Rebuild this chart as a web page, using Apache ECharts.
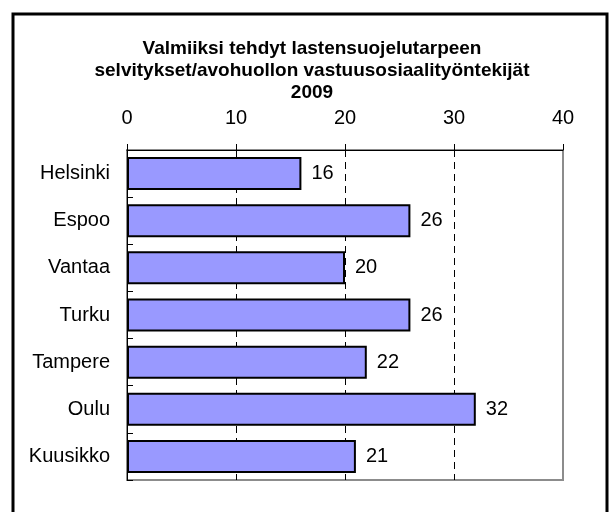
<!DOCTYPE html>
<html><head><meta charset="utf-8">
<script src="https://cdn.jsdelivr.net/npm/echarts@6/dist/echarts.min.js"></script>
<style>html,body{margin:0;padding:0;background:#fff}#c{width:611px;height:512px}</style>
</head><body><div id="c"></div>
<script>
const titleLines = ["Valmiiksi tehdyt lastensuojelutarpeen", "selvitykset/avohuollon vastuusosiaalityöntekijät", "2009"];
const categories = ["Helsinki", "Espoo", "Vantaa", "Turku", "Tampere", "Oulu", "Kuusikko"];
const values = [16, 26, 20, 26, 22, 32, 21];
const axisMin = 0, axisMax = 40, axisStep = 10;

const chart = echarts.init(document.getElementById('c'), null, {renderer: 'canvas'});
const font = 'Arial, "Liberation Sans", sans-serif';
chart.setOption({
  animation: false,
  backgroundColor: '#fff',
  title: {
    text: titleLines.join('\n'),
    left: 307, top: 33, textAlign: 'center',
    textStyle: {fontFamily: font, fontWeight: 'bold', fontSize: 19, lineHeight: 22, color: '#000'}
  },
  graphic: [{
    type: 'rect', shape: {x: 13, y: 14, width: 594, height: 520},
    style: {fill: 'none', stroke: '#000', lineWidth: 3}, z: 100
  }],
  grid: {left: 127, top: 150, width: 436, height: 330, show: true, borderColor: '#8c8c8c', borderWidth: 2, backgroundColor: 'transparent'},
  xAxis: {
    type: 'value', position: 'top', min: axisMin, max: axisMax, interval: axisStep,
    axisLine: {show: true, lineStyle: {color: '#000', width: 1}},
    axisTick: {show: true, length: 6, lineStyle: {color: '#000'}},
    axisLabel: {fontFamily: font, fontSize: 20, color: '#000', margin: 22},
    splitLine: {show: true, lineStyle: {color: ['transparent', '#000', '#000', '#000', 'transparent'], type: [7, 5], width: 1}}
  },
  yAxis: {
    type: 'category', data: categories, inverse: true,
    axisLine: {show: true, lineStyle: {color: '#000', width: 1}},
    axisTick: {show: true, inside: true, length: 6, lineStyle: {color: '#000'}},
    axisLabel: {fontFamily: font, fontSize: 20, color: '#000', margin: 17}
  },
  series: [{
    type: 'bar', data: values, barCategoryGap: '30%',
    itemStyle: {color: '#9999FF', borderColor: '#000', borderWidth: 2},
    label: {show: true, position: 'right', distance: 10, fontFamily: font, fontSize: 20, color: '#000'}
  }]
});
</script></body></html>
